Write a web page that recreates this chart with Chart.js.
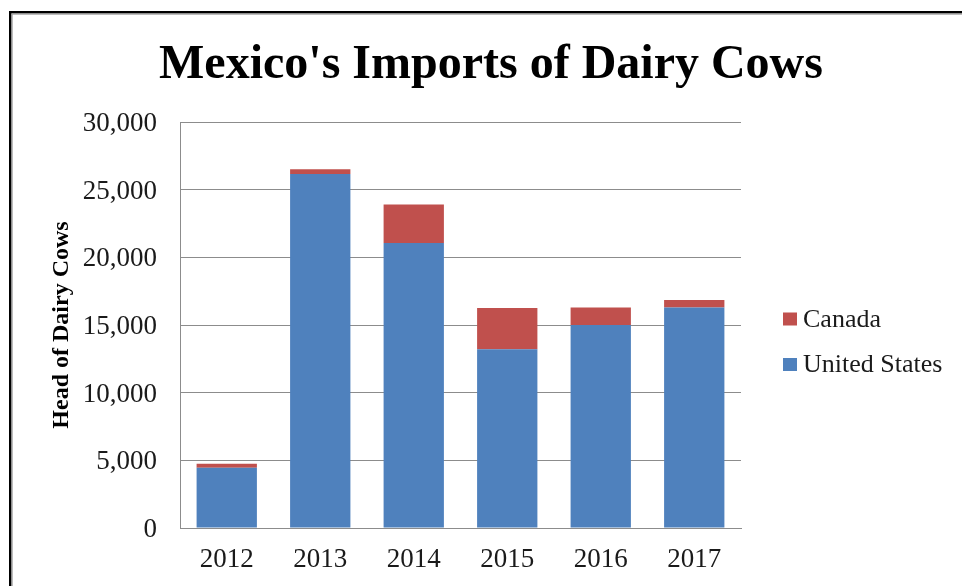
<!DOCTYPE html>
<html><head><meta charset="utf-8">
<script src="https://cdn.jsdelivr.net/npm/chart.js@4/dist/chart.umd.min.js"></script>
<style>html,body{margin:0;padding:0;background:#fff;overflow:hidden;} #wrap{width:962px;height:586px;position:relative;}</style>
</head><body><div id="wrap"><canvas id="c" width="962" height="586"></canvas></div>
<script>
const categories = ['2012', '2013', '2014', '2015', '2016', '2017'];
const unitedStates = [4450, 26150, 21050, 13200, 15000, 16300];
const canada = [300, 350, 2850, 3050, 1300, 550];
const yTickValues = [0, 5000, 10000, 15000, 20000, 25000, 30000];
const seriesNames = ['United States', 'Canada'];
const seriesColors = ['#4F81BD', '#C0504D'];

const SERIF = "'Liberation Serif', 'Times New Roman', serif";

const framePlugin = {
  id: 'frame',
  beforeDraw(chart) {
    const ctx = chart.ctx;
    ctx.save();
    ctx.fillStyle = '#fff';
    ctx.fillRect(0, 0, chart.width, chart.height);
    ctx.fillStyle = '#000';
    ctx.fillRect(9, 11, chart.width - 9, 2.5);
    ctx.fillRect(9, 11, 2.5, chart.height - 11);
    ctx.fillStyle = '#a0a0a0';
    ctx.fillRect(11.5, 13.5, chart.width - 11.5, 1.2);
    ctx.fillRect(11.5, 13.5, 1.2, chart.height - 13.5);
    ctx.restore();
  }
};

const legendPlugin = {
  id: 'sideLegend',
  afterDraw(chart) {
    const ctx = chart.ctx;
    const ds = chart.data.datasets.slice().reverse();
    const rowYs = [319, 364.5];
    ctx.save();
    ctx.font = '26px ' + SERIF;
    ctx.textBaseline = 'middle';
    ctx.textAlign = 'left';
    ds.forEach((d, i) => {
      const y = rowYs[i];
      ctx.fillStyle = d.backgroundColor;
      ctx.fillRect(783, y - 6.5, 14, 13);
      ctx.fillStyle = '#1a1a1a';
      ctx.fillText(d.label, 803, y + 1);
    });
    ctx.restore();
  }
};

new Chart(document.getElementById('c'), {
  type: 'bar',
  data: {
    labels: categories,
    datasets: [
      { label: seriesNames[0], data: unitedStates, backgroundColor: seriesColors[0], borderWidth: 0, stack: 's' },
      { label: seriesNames[1], data: canada, backgroundColor: seriesColors[1], borderWidth: 0, stack: 's' }
    ]
  },
  options: {
    responsive: false,
    animation: false,
    devicePixelRatio: 1,
    layout: { padding: { left: 20, right: 0, top: 0, bottom: 0 } },
    datasets: { bar: { categoryPercentage: 1.0, barPercentage: 0.645 } },
    plugins: {
      legend: { display: false },
      tooltip: { enabled: false },
      title: {
        display: true,
        text: "Mexico's Imports of Dairy Cows",
        color: '#000',
        font: { family: SERIF, size: 48, weight: 'bold' },
        padding: { top: 37, bottom: 27.4 }
      }
    },
    scales: {
      x: {
        stacked: true,
        grid: { display: false, drawTicks: false },
        border: { display: true, color: '#8c8c8c', width: 1 },
        ticks: { color: '#1a1a1a', font: { family: SERIF, size: 27 }, padding: 16, maxRotation: 0 },
        afterFit: s => { s.height = 58; }
      },
      y: {
        stacked: true,
        min: 0,
        max: 30000,
        afterBuildTicks: s => { s.ticks = yTickValues.map(v => ({ value: v })); },
        grid: { color: '#8c8c8c', lineWidth: 1, drawTicks: false },
        border: { display: true, color: '#8c8c8c', width: 1 },
        ticks: {
          color: '#1a1a1a',
          font: { family: SERIF, size: 27 },
          padding: 23,
          labelOffset: 2,
          callback: v => Number(v).toLocaleString('en-US')
        },
        title: {
          display: true,
          text: 'Head of Dairy Cows',
          color: '#000',
          font: { family: SERIF, size: 24, weight: 'bold' },
          padding: { top: 27, bottom: 0 }
        },
        afterFit: s => { s.width = 160; }
      },
      yRight: {
        type: 'linear',
        position: 'right',
        display: true,
        grid: { display: false, drawTicks: false },
        border: { display: false },
        ticks: { display: false },
        afterFit: s => { s.width = 221; }
      }
    }
  },
  plugins: [framePlugin, legendPlugin]
});
</script>
</body></html>
